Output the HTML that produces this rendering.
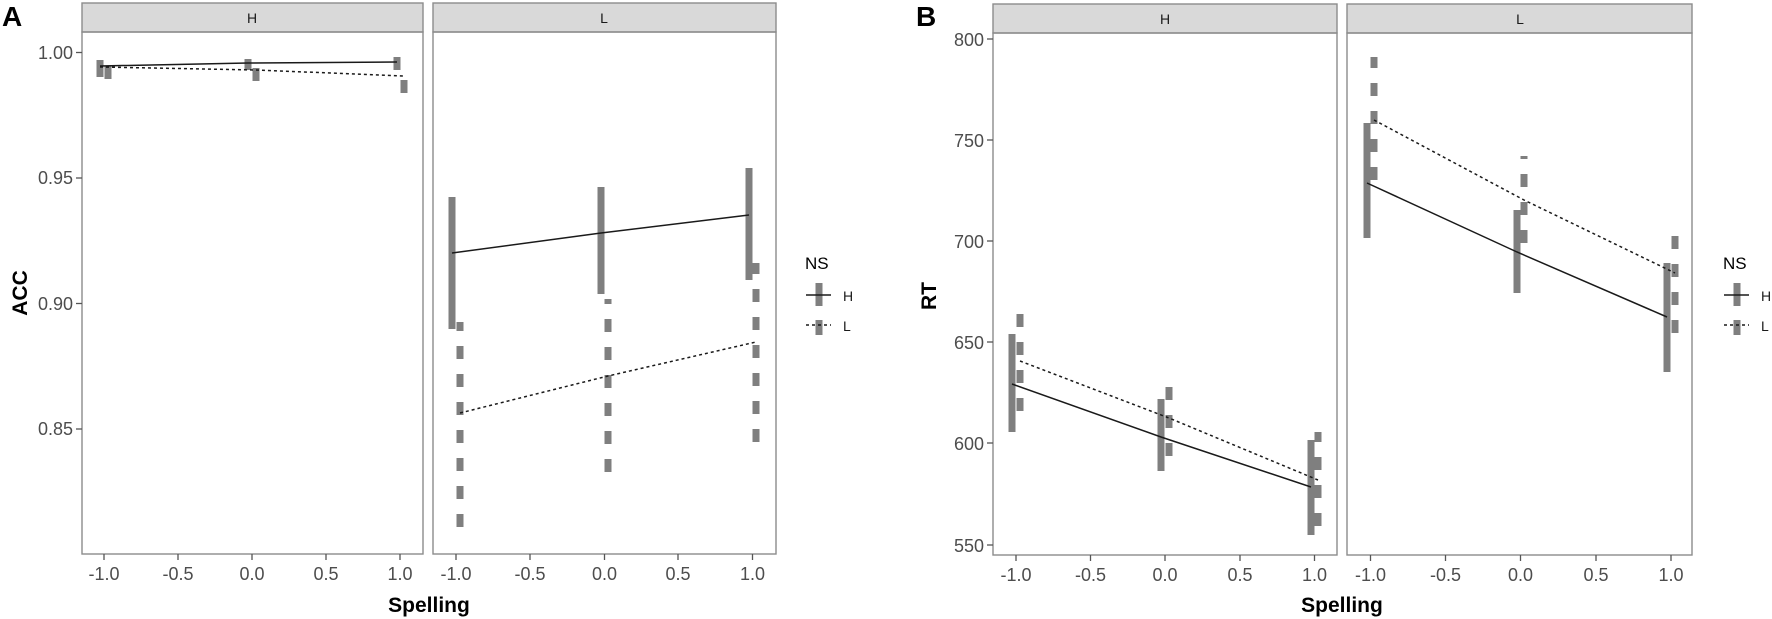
<!DOCTYPE html>
<html><head><meta charset="utf-8"><style>
html,body{margin:0;padding:0;background:#fff;}
svg{display:block;font-family:"Liberation Sans",Arial,sans-serif;}
.tk{font-size:18px;fill:#4d4d4d;}
.st{font-size:14px;fill:#1a1a1a;}
.ttl{font-size:21px;font-weight:bold;fill:#000;}
.pb{fill:none;stroke:#8c8c8c;stroke-width:1.4;}
.strip{fill:#d9d9d9;stroke:#8c8c8c;stroke-width:1.4;}
.eb{stroke:#7f7f7f;stroke-width:7;fill:none;}
.ebd{stroke:#7f7f7f;stroke-width:7;fill:none;stroke-dasharray:13,15;}
.ls{stroke:#1a1a1a;stroke-width:1.5;fill:none;}
.ld{stroke:#1a1a1a;stroke-width:1.5;fill:none;stroke-dasharray:3,3;}
.tm{stroke:#555;stroke-width:1.3;}
</style></head><body>
<svg width="1772" height="619" viewBox="0 0 1772 619">
<!-- Panel labels -->
<text x="2" y="26" font-size="28" font-weight="bold">A</text>
<text x="916" y="26" font-size="28" font-weight="bold">B</text>

<!-- ===== Panel A ===== -->
<rect class="strip" x="82" y="3" width="341" height="29"/>
<text class="st" x="252" y="23" text-anchor="middle">H</text>
<rect class="strip" x="433" y="3" width="343" height="29"/>
<text class="st" x="604" y="23" text-anchor="middle">L</text>
<rect class="pb" x="82" y="32" width="341" height="522"/>
<rect class="pb" x="433" y="32" width="343" height="522"/>

<!-- y ticks A -->
<g class="tm"><line x1="76" y1="52.5" x2="82" y2="52.5"/><line x1="76" y1="178" x2="82" y2="178"/><line x1="76" y1="303.5" x2="82" y2="303.5"/><line x1="76" y1="429" x2="82" y2="429"/></g>
<g class="tk" text-anchor="end"><text x="73" y="59">1.00</text><text x="73" y="184">0.95</text><text x="73" y="310">0.90</text><text x="73" y="435">0.85</text></g>
<!-- x ticks A -->
<g class="tm">
<line x1="104" y1="554" x2="104" y2="560"/><line x1="178" y1="554" x2="178" y2="560"/><line x1="252" y1="554" x2="252" y2="560"/><line x1="326" y1="554" x2="326" y2="560"/><line x1="400" y1="554" x2="400" y2="560"/>
<line x1="456" y1="554" x2="456" y2="560"/><line x1="530" y1="554" x2="530" y2="560"/><line x1="604.5" y1="554" x2="604.5" y2="560"/><line x1="678" y1="554" x2="678" y2="560"/><line x1="752.5" y1="554" x2="752.5" y2="560"/>
</g>
<g class="tk" text-anchor="middle">
<text x="104" y="580">-1.0</text><text x="178" y="580">-0.5</text><text x="252" y="580">0.0</text><text x="326" y="580">0.5</text><text x="400" y="580">1.0</text>
<text x="456" y="580">-1.0</text><text x="530" y="580">-0.5</text><text x="604.5" y="580">0.0</text><text x="678" y="580">0.5</text><text x="752.5" y="580">1.0</text>
</g>
<text class="ttl" x="429" y="612" text-anchor="middle">Spelling</text>
<text class="ttl" transform="translate(27,293) rotate(-90)" text-anchor="middle">ACC</text>

<!-- A H panel data -->
<line class="eb" x1="100" y1="60" x2="100" y2="77"/><line class="eb" x1="248" y1="59" x2="248" y2="70"/><line class="eb" x1="397" y1="57" x2="397" y2="70"/>
<line class="ebd" x1="108" y1="79" x2="108" y2="65"/><line class="ebd" x1="256" y1="81" x2="256" y2="67"/><line class="ebd" x1="404" y1="93" x2="404" y2="79"/>
<polyline class="ls" points="100,66 248,63 397,62"/>
<polyline class="ld" points="100,67 256,70 404,76"/>
<!-- A L panel data -->
<line class="eb" x1="452" y1="197" x2="452" y2="329"/><line class="eb" x1="601" y1="187" x2="601" y2="294"/><line class="eb" x1="749" y1="168" x2="749" y2="280"/>
<line class="ebd" x1="460" y1="527" x2="460" y2="322"/><line class="ebd" x1="608" y1="472" x2="608" y2="299"/><line class="ebd" x1="756" y1="442" x2="756" y2="263"/>
<polyline class="ls" points="452,253 601,233 749,215"/>
<polyline class="ld" points="460,413 608,376 756,342"/>

<!-- Legend A -->
<text x="805" y="269" font-size="17" fill="#000">NS</text>
<line class="eb" x1="819" y1="283" x2="819" y2="306"/>
<line class="ls" x1="806" y1="295" x2="831" y2="295"/>
<text class="st" x="843" y="301">H</text>
<line class="eb" x1="819" y1="320" x2="819" y2="335"/>
<line class="ld" x1="806" y1="325" x2="831" y2="325"/>
<text class="st" x="843" y="331">L</text>

<!-- ===== Panel B ===== -->
<rect class="strip" x="993" y="4" width="344" height="29"/>
<text class="st" x="1165" y="24" text-anchor="middle">H</text>
<rect class="strip" x="1347" y="4" width="345" height="29"/>
<text class="st" x="1520" y="24" text-anchor="middle">L</text>
<rect class="pb" x="993" y="33" width="344" height="522"/>
<rect class="pb" x="1347" y="33" width="345" height="522"/>

<g class="tm"><line x1="987" y1="39" x2="993" y2="39"/><line x1="987" y1="140" x2="993" y2="140"/><line x1="987" y1="241" x2="993" y2="241"/><line x1="987" y1="342" x2="993" y2="342"/><line x1="987" y1="443" x2="993" y2="443"/><line x1="987" y1="545" x2="993" y2="545"/></g>
<g class="tk" text-anchor="end"><text x="984" y="46">800</text><text x="984" y="147">750</text><text x="984" y="248">700</text><text x="984" y="349">650</text><text x="984" y="450">600</text><text x="984" y="552">550</text></g>
<g class="tm">
<line x1="1016" y1="555" x2="1016" y2="561"/><line x1="1090.5" y1="555" x2="1090.5" y2="561"/><line x1="1165" y1="555" x2="1165" y2="561"/><line x1="1240" y1="555" x2="1240" y2="561"/><line x1="1314.5" y1="555" x2="1314.5" y2="561"/>
<line x1="1370.5" y1="555" x2="1370.5" y2="561"/><line x1="1445.5" y1="555" x2="1445.5" y2="561"/><line x1="1520.5" y1="555" x2="1520.5" y2="561"/><line x1="1596" y1="555" x2="1596" y2="561"/><line x1="1671" y1="555" x2="1671" y2="561"/>
</g>
<g class="tk" text-anchor="middle">
<text x="1016" y="581">-1.0</text><text x="1090.5" y="581">-0.5</text><text x="1165" y="581">0.0</text><text x="1240" y="581">0.5</text><text x="1314.5" y="581">1.0</text>
<text x="1370.5" y="581">-1.0</text><text x="1445.5" y="581">-0.5</text><text x="1520.5" y="581">0.0</text><text x="1596" y="581">0.5</text><text x="1671" y="581">1.0</text>
</g>
<text class="ttl" x="1342" y="612" text-anchor="middle">Spelling</text>
<text class="ttl" transform="translate(936,296) rotate(-90)" text-anchor="middle">RT</text>

<!-- B H panel data -->
<line class="eb" x1="1012" y1="334" x2="1012" y2="432"/><line class="eb" x1="1161" y1="399" x2="1161" y2="471"/><line class="eb" x1="1311" y1="440" x2="1311" y2="535"/>
<line class="ebd" x1="1020" y1="411" x2="1020" y2="311"/><line class="ebd" x1="1169" y1="456" x2="1169" y2="385"/><line class="ebd" x1="1318" y1="526" x2="1318" y2="432"/>
<polyline class="ls" points="1012,384 1161,437 1311,487"/>
<polyline class="ld" points="1020,361 1169,418 1318,480"/>
<!-- B L panel data -->
<line class="eb" x1="1367" y1="123" x2="1367" y2="238"/><line class="eb" x1="1517" y1="210" x2="1517" y2="293"/><line class="eb" x1="1667" y1="263" x2="1667" y2="372"/>
<line class="ebd" x1="1374" y1="180" x2="1374" y2="57"/><line class="ebd" x1="1524" y1="243" x2="1524" y2="156"/><line class="ebd" x1="1675" y1="333" x2="1675" y2="233"/>
<polyline class="ls" points="1367,183 1517,252 1667,317"/>
<polyline class="ld" points="1374,120 1524,200 1675,273"/>

<!-- Legend B -->
<text x="1723" y="269" font-size="17" fill="#000">NS</text>
<line class="eb" x1="1737" y1="283" x2="1737" y2="306"/>
<line class="ls" x1="1724" y1="295" x2="1749" y2="295"/>
<text class="st" x="1761" y="301">H</text>
<line class="eb" x1="1737" y1="320" x2="1737" y2="335"/>
<line class="ld" x1="1724" y1="325" x2="1749" y2="325"/>
<text class="st" x="1761" y="331">L</text>
</svg>
</body></html>
